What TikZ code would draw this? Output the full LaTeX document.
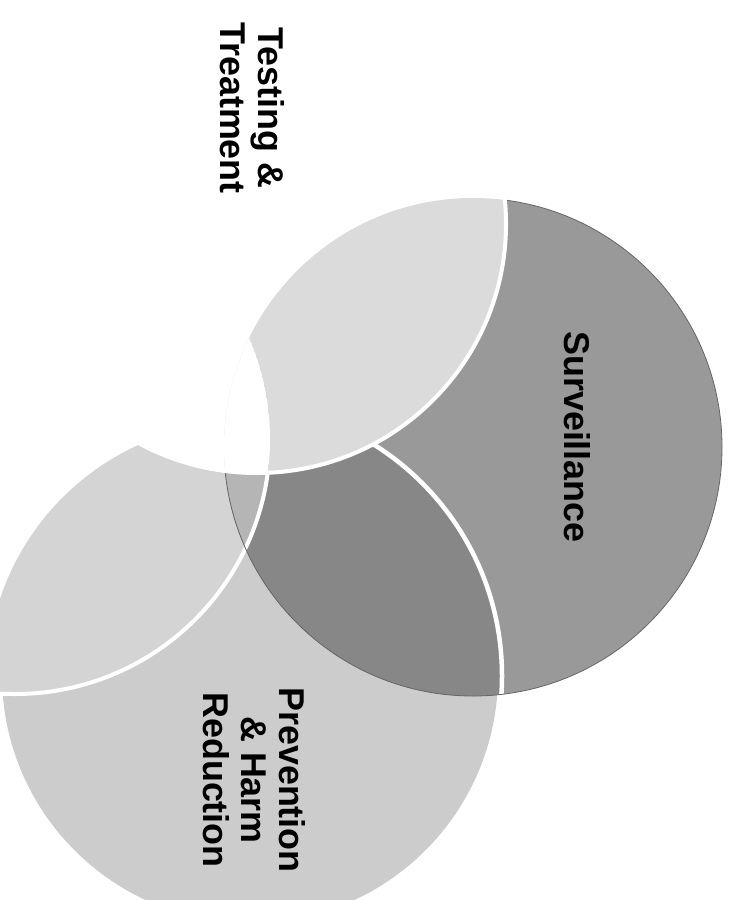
\documentclass[tikz,border=0pt]{standalone}
\usepackage{fontspec}
\setmainfont{Liberation Sans}
\definecolor{scol}{gray}{0.60}
\definecolor{lenscol}{gray}{0.53}
\definecolor{pcol}{gray}{0.80}
\definecolor{lcol}{gray}{0.83}
\definecolor{bscol}{gray}{0.71}
\definecolor{tcol}{gray}{0.86}
\begin{document}
\begin{tikzpicture}[x=1bp,y=-1bp,
  lbl/.style={font=\fontsize{36}{38}\selectfont\bfseries, inner sep=0pt, text=black},
  wline/.style={draw=white, line width=4bp},
  edge/.style={draw=black!60, line width=0.8bp}]
\clip (0,0) rectangle (732,900);
\fill[white] (0,0) rectangle (732,900);
% circle centres
\coordinate (cS) at (473,447);
\coordinate (cT) at (257,224);
\coordinate (cP) at (250,675);
\coordinate (cPa) at (229,676);
\coordinate (cPl) at (245,680);
\coordinate (cB) at (15,439);
% Prevention (visible light part)
\fill[pcol] (cP) circle[radius=248bp];
\begin{scope}
  \clip (cB) circle[radius=255bp];
  \fill[lcol] (cPl) circle[radius=258bp];
\end{scope}
% Surveillance
\fill[scol] (cS) circle[radius=249bp];
\begin{scope}
  \clip (cS) circle[radius=249bp];
  \fill[lenscol] (cPa) circle[radius=273bp];
  \fill[bscol] (cB) circle[radius=255bp];
  \path[wline, line width=4.5bp] (cPa) circle[radius=273bp];
\end{scope}
% left circle outline
\path[wline] (cB) circle[radius=255bp];
% thin scanned edge of Surveillance
\path[edge] (cS) circle[radius=249bp];
% Testing circle
\fill[white] (cT) circle[radius=249bp];
\begin{scope}
  \clip (cT) circle[radius=249bp];
  \clip (cS) circle[radius=249bp];
  \fill[tcol] (cS) circle[radius=249bp];
  \clip (cB) circle[radius=255bp];
  \fill[white] (cB) circle[radius=255bp];
\end{scope}
\path[wline] (cT) circle[radius=249bp];
% labels
\node[lbl, rotate=-90] (surv) at (577,437) {Surveillance};
\node[lbl, rotate=-90, align=center] (test) at (252,108) {Testing \&\\Treatment};
\node[lbl, rotate=-90, align=center] (prev) at (254,780) {Prevention\\\& Harm\\Reduction};
\end{tikzpicture}
\end{document}
